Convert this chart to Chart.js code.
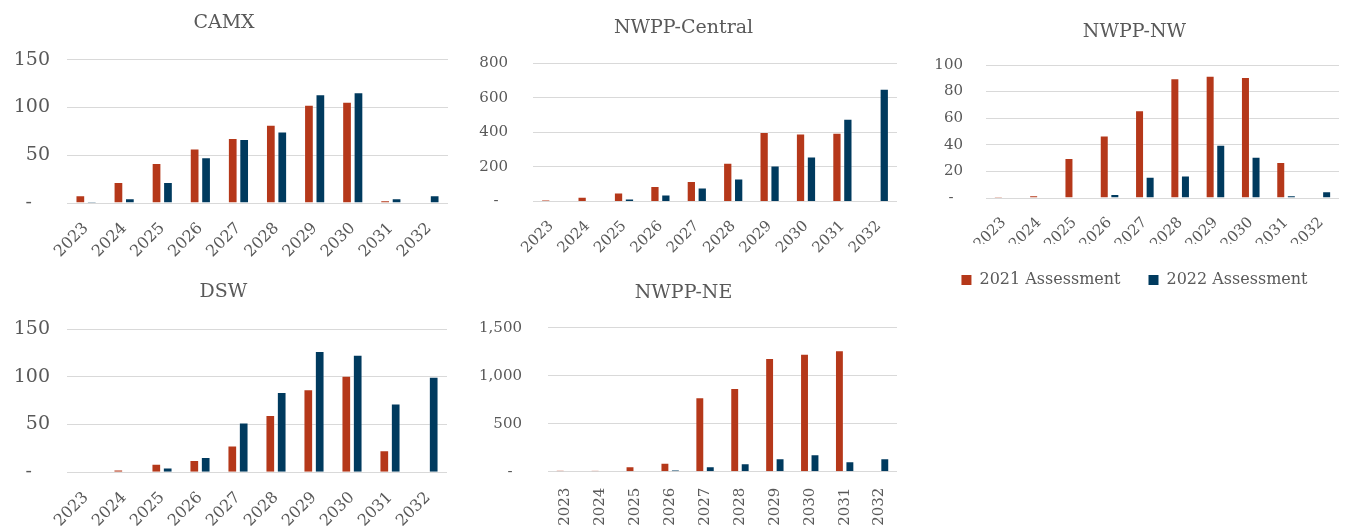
<!DOCTYPE html>
<html>
<head>
<meta charset="utf-8">
<script src="https://cdn.jsdelivr.net/npm/chart.js@4.4.1/dist/chart.umd.min.js"></script>
<style>
  body { margin: 0; background: #fff; }
  .panel { position: absolute; }
</style>
</head>
<body>
<div class="panel" style="left:0;top:0;width:460px;height:265px"><canvas id="camx"></canvas></div>
<div class="panel" style="left:470px;top:0;width:442px;height:265px"><canvas id="central"></canvas></div>
<div class="panel" style="left:930px;top:0;width:416px;height:298px"><canvas id="nw"></canvas></div>
<div class="panel" style="left:0;top:270px;width:460px;height:259px"><canvas id="dsw"></canvas></div>
<div class="panel" style="left:470px;top:270px;width:442px;height:259px"><canvas id="ne"></canvas></div>
<script>
// categories and series
const years = ['2023', '2024', '2025', '2026', '2027', '2028', '2029', '2030', '2031', '2032'];
const seriesNames = ['2021 Assessment', '2022 Assessment'];

const camx2021 = [8, 22, 42, 57, 68, 82, 103, 106, 3, 0];
const camx2022 = [1.5, 5, 22, 48, 67, 75, 114, 116, 5, 8];

const central2021 = [8, 27, 52, 90, 118, 224, 402, 394, 398, 0];
const central2022 = [0, 0, 17, 40, 81, 133, 209, 261, 479, 653];

const nw2021 = [1, 2, 30, 47, 66, 90, 92, 91, 27, 0];
const nw2022 = [0, 0, 0, 3, 16, 17, 40, 31, 2, 5];

const dsw2021 = [0, 3, 9, 13, 28, 60, 87, 101, 23, 0];
const dsw2022 = [0, 0, 5, 16, 52, 84, 127, 123, 72, 100];

const ne2021 = [14, 12, 56, 94, 775, 872, 1184, 1229, 1264, 0];
const ne2022 = [0, 0, 0, 18, 56, 87, 139, 181, 108, 139];

const red = '#B5381A';
const navy = '#003A5E';
const grey = '#595959';
const family = '"DejaVu Serif", serif';

function makeChart(id, title, s2021, s2022, o) {
  const legend = o.legend ? {
    display: true,
    position: 'bottom',
    labels: {
      color: grey, font: { family, size: 16 }, boxWidth: 10, boxHeight: 10, padding: 28,
      generateLabels: chart => chart.data.datasets.map((ds, i) => ({
        text: ds.label, fillStyle: ds.backgroundColor, strokeStyle: ds.backgroundColor,
        lineWidth: 0, datasetIndex: i, fontColor: grey
      }))
    }
  } : { display: false };

  return new Chart(document.getElementById(id), {
    type: 'bar',
    data: {
      labels: years,
      datasets: [
        { label: seriesNames[0], data: s2021, backgroundColor: red },
        { label: seriesNames[1], data: s2022, backgroundColor: navy }
      ]
    },
    options: {
      responsive: true,
      maintainAspectRatio: false,
      animation: false,
      datasets: {
        bar: {
          categoryPercentage: 0.6, barPercentage: 0.85,
          borderWidth: 1, borderColor: 'rgba(255,255,255,0.25)', borderSkipped: 'start'
        }
      },
      layout: { padding: { left: 0, right: o.right, top: 0, bottom: 0 } },
      plugins: {
        title: {
          display: true, text: title, color: grey,
          font: { family, size: 19, weight: 'normal' }, padding: o.titlePad
        },
        legend,
        tooltip: { enabled: false }
      },
      scales: {
        x: {
          grid: { display: false },
          border: { display: false },
          ticks: {
            color: grey, font: { family, size: o.xFont }, autoSkip: false,
            minRotation: o.rot, maxRotation: o.rot, padding: o.xPad
          },
          afterFit: s => { s.height = o.xH; }
        },
        y: {
          min: 0, max: o.max,
          grid: { color: '#d9d9d9', drawTicks: false },
          border: { display: false },
          ticks: {
            stepSize: o.step, color: grey, font: { family, size: o.yFont }, padding: o.yPad,
            callback: v => v === 0 ? '-' + '\u00a0'.repeat(o.dash) : v.toLocaleString('en-US')
          },
          afterFit: s => { s.width = o.yW; }
        }
      }
    }
  });
}

makeChart('camx', 'CAMX', camx2021, camx2022,
  { max: 150, step: 50, yW: 67, yPad: 17, yFont: 19, dash: 3, right: 12, rot: 45, xFont: 16, xPad: 8, xH: 62, titlePad: { top: 12, bottom: 25 } });
makeChart('central', 'NWPP-Central', central2021, central2022,
  { max: 800, step: 200, yW: 63, yPad: 25, yFont: 15, dash: 2, right: 15, rot: 45, xFont: 15, xPad: 8, xH: 63.5, titlePad: { top: 17, bottom: 23.5 } });
makeChart('nw', 'NWPP-NW', nw2021, nw2022,
  { max: 100, step: 20, yW: 56, yPad: 23, yFont: 15, dash: 2, right: 7, rot: 45, xFont: 15, xPad: 8, xH: 46, titlePad: { top: 21, bottom: 21.2 }, legend: true });
makeChart('dsw', 'DSW', dsw2021, dsw2022,
  { max: 150, step: 50, yW: 67, yPad: 17, yFont: 19, dash: 3, right: 13, rot: 45, xFont: 16, xPad: 8, xH: 56.7, titlePad: { top: 11, bottom: 25.2 } });
makeChart('ne', 'NWPP-NE', ne2021, ne2022,
  { max: 1500, step: 500, yW: 78, yPad: 26, yFont: 15, dash: 2, right: 15, rot: 90, xFont: 15, xPad: 8, xH: 57.3, titlePad: { top: 12, bottom: 22.9 } });
</script>
</body>
</html>
